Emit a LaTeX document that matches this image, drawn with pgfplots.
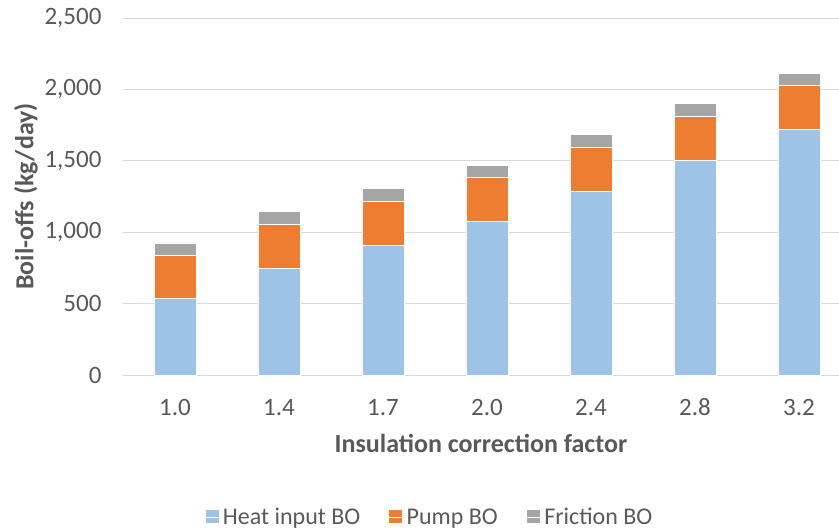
\documentclass[border=0pt]{standalone}
\usepackage{fontspec}
\setmainfont{Carlito}
\usepackage{pgfplots}
\pgfplotsset{compat=1.18}

\definecolor{heatc}{HTML}{9DC3E6}
\definecolor{pumpc}{HTML}{ED7D31}
\definecolor{fricc}{HTML}{A5A5A5}
\definecolor{gridc}{HTML}{D9D9D9}
\definecolor{textc}{HTML}{595959}

\begin{document}
\begin{tikzpicture}
% fixed page frame around the plot box (plot box: 716pt x 357pt)
\useasboundingbox (-123pt,-156pt) rectangle (716pt,375pt);
\begin{axis}[
  at={(0,0)}, anchor=south west,
  scale only axis,
  width=716pt, height=357pt,
  ybar stacked,
  bar width=42pt,
  xmin=-0.5, xmax=6.385,
  ymin=0, ymax=2500,
  ytick={0,500,...,2500},
  xtick={0,1,2,3,4,5,6},
  xticklabels={1.0,1.4,1.7,2.0,2.4,2.8,3.2},
  ymajorgrids,
  grid style={gridc, line width=1pt},
  axis line style={draw=none},
  major tick length=0pt,
  tick style={draw=none},
  /pgf/number format/.cd, 1000 sep={,}, assume math mode=true,
  /pgfplots/.cd,
  ticklabel style={font=\fontsize{25}{30}\selectfont, text=textc},
  yticklabel style={anchor=east, xshift=-18pt},
  xticklabel style={anchor=north, text height=17pt, text depth=0pt, yshift=-20pt},
  xlabel={\textbf{Insulation correction factor}},
  ylabel={\textbf{Boil-offs (kg/day)}},
  label style={font=\fontsize{26}{30}\selectfont, text=textc},
  xlabel style={yshift=-12pt},
  ylabel style={yshift=0pt},
  legend columns=3,
  legend style={
    at={(0.428,-0.398)}, anchor=center,
    draw=none, fill=none,
    font=\fontsize{24}{29}\selectfont, text=textc,
    /tikz/every even column/.append style={column sep=26pt},
  },
  legend image code/.code={
    \fill[#1] (0pt,-6pt) rectangle (14pt,8pt);
    \path (0pt,0pt) -- (16pt,0pt);
  },
]
% boil-off from heat input
\addplot[fill=heatc, draw=white, line width=0.4pt]
  coordinates {(0,535) (1,747) (2,907) (3,1075) (4,1287) (5,1503) (6,1720)};
% boil-off from pump work
\addplot[fill=pumpc, draw=white, line width=0.4pt]
  coordinates {(0,305) (1,309) (2,310) (3,307) (4,310) (5,310) (6,306)};
% boil-off from friction
\addplot[fill=fricc, draw=white, line width=0.4pt]
  coordinates {(0,86) (1,91) (2,91) (3,87) (4,86) (5,87) (6,88)};
\legend{Heat input BO, Pump BO, Friction BO}
\end{axis}
\end{tikzpicture}
\end{document}
